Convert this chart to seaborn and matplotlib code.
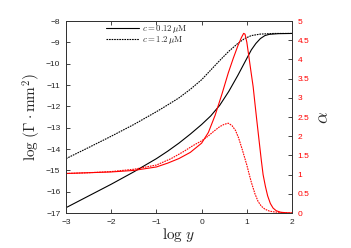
import numpy as np
import pandas as pd
import matplotlib
matplotlib.use("Agg")
import matplotlib.pyplot as plt
import seaborn as sns

# log(Gamma * mm^2) curves
x_low = [-3, -2.5, -2, -1.5, -1, -0.75, -0.5, -0.25, 0, 0.2, 0.4, 0.6, 0.8,
         0.95, 1.1, 1.2, 1.3, 1.4, 1.5, 1.7, 2]
gamma_low = [-16.75, -16.2, -15.65, -15.07, -14.45, -14.1, -13.72, -13.3,
             -12.85, -12.45, -11.95, -11.3, -10.55, -9.95, -9.35, -9.05,
             -8.82, -8.68, -8.62, -8.59, -8.58]

x_high = [-3, -2.5, -2, -1.5, -1, -0.75, -0.5, -0.25, 0, 0.2, 0.4, 0.6, 0.8,
          0.95, 1.1, 1.3, 1.6, 2]
gamma_high = [-14.45, -13.93, -13.4, -12.85, -12.25, -11.93, -11.6, -11.2,
              -10.75, -10.3, -9.85, -9.42, -9.05, -8.82, -8.68, -8.61,
              -8.58, -8.58]

# alpha curves (right axis)
xa_low = [-3, -2.5, -2, -1.5, -1, -0.75, -0.5, -0.25, 0, 0.15, 0.3, 0.45,
          0.59, 0.7, 0.8, 0.88, 0.93, 0.96, 1.0, 1.04, 1.09, 1.14, 1.18, 1.22,
          1.27, 1.32, 1.36, 1.41, 1.46, 1.52, 1.58, 1.65, 1.75, 1.9, 2]
alpha_low = [1.03, 1.05, 1.07, 1.11, 1.2, 1.3, 1.42, 1.58, 1.82, 2.1, 2.55,
             3.1, 3.65, 4.03, 4.35, 4.57, 4.68, 4.66, 4.45, 4.12, 3.7, 3.29,
             2.85, 2.42, 1.9, 1.38, 1.0, 0.7, 0.45, 0.25, 0.13, 0.06, 0.02,
             0.005, 0.0]

xa_high = [-3, -2.5, -2, -1.5, -1, -0.67, -0.4, -0.2, 0, 0.14, 0.27, 0.4,
           0.5, 0.59, 0.67, 0.75, 0.82, 0.9, 0.95, 1.0, 1.05, 1.1, 1.18, 1.25,
           1.32, 1.4, 1.5, 1.6, 1.8, 2]
alpha_high = [1.03, 1.05, 1.08, 1.14, 1.25, 1.42, 1.6, 1.75, 1.88, 2.0, 2.13,
              2.25, 2.31, 2.34, 2.28, 2.15, 1.95, 1.65, 1.45, 1.25, 1.02, 0.8,
              0.5, 0.3, 0.18, 0.1, 0.05, 0.03, 0.01, 0.0]

df_low = pd.DataFrame({"x": x_low, "y": gamma_low})
df_high = pd.DataFrame({"x": x_high, "y": gamma_high})
da_low = pd.DataFrame({"x": xa_low, "y": alpha_low})
da_high = pd.DataFrame({"x": xa_high, "y": alpha_high})

sns.set_style("ticks")
plt.rcParams["font.family"] = ["Liberation Sans", "DejaVu Sans"]
plt.rcParams["mathtext.fontset"] = "cm"

fig = plt.figure(figsize=(3.51, 2.48), dpi=100)
ax = fig.add_axes([0.188, 0.141, 0.644, 0.774])

sns.lineplot(data=df_low, x="x", y="y", ax=ax, color="black", lw=0.8,
             label=r"$c = 0.12\,\mu\mathrm{M}$")
sns.lineplot(data=df_high, x="x", y="y", ax=ax, color="black", lw=0.8,
             linestyle=(0, (1.5, 0.8)), label=r"$c = 1.2\,\mu\mathrm{M}$")

ax.set_xlim(-3, 2)
ax.set_ylim(-17, -8)
ax.set_xticks(range(-3, 3))
ax.set_yticks(range(-17, -7))
ax.tick_params(direction="in", length=3, width=0.6, labelsize=6,
               top=True, pad=4)
ax.set_xlabel(r"$\log\, y$", fontsize=11, labelpad=0)
ax.set_ylabel(r"$\log\,(\Gamma \cdot \mathrm{mm}^2)$", fontsize=11, labelpad=2)
for s in ax.spines.values():
    s.set_linewidth(0.7)
    s.set_color("#333333")

ax2 = ax.twinx()
sns.lineplot(data=da_low, x="x", y="y", ax=ax2, color="red", lw=0.8,
             legend=False)
sns.lineplot(data=da_high, x="x", y="y", ax=ax2, color="red", lw=0.8,
             linestyle=(0, (1.5, 0.8)), legend=False)
ax2.set_ylim(0, 5)
ax2.set_yticks(np.arange(0, 5.01, 0.5))
ax2.set_yticklabels(["0", "0.5", "1", "1.5", "2", "2.5", "3", "3.5", "4",
                     "4.5", "5"])
ax2.tick_params(direction="in", length=3, width=0.6, labelsize=6,
                labelcolor="red", pad=4)
ax2.set_ylabel(r"$\alpha$", fontsize=13, labelpad=4)
for s in ax2.spines.values():
    s.set_linewidth(0.7)
    s.set_color("#333333")

leg = ax.legend(loc="upper left", bbox_to_anchor=(0.15, 1.02), frameon=False,
                fontsize=6.3, handlelength=3.8, handletextpad=0.3,
                labelspacing=-0.1, borderpad=0.2)

fig.savefig("out.png", dpi=100)
